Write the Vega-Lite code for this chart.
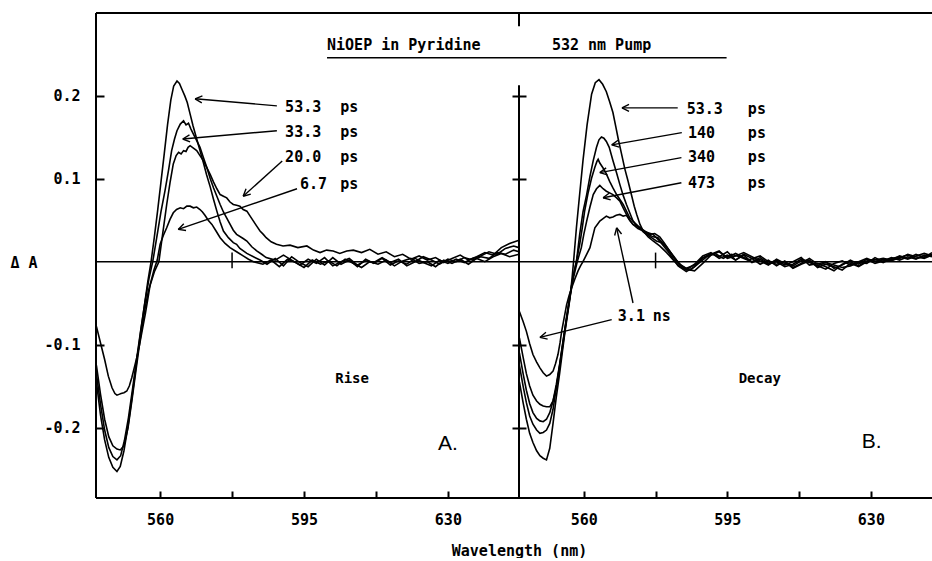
{
"$schema":"https://vega.github.io/schema/vega-lite/v6.json",
"autosize":{"type":"pad"},
"padding":{"left":10,"top":12,"right":0,"bottom":0},
"bounds":"flush",
"spacing":0,
"background":"white",
"config":{"view":{"stroke":null},"axis":{"labelColor":"black","tickColor":"black","titleColor":"black","labelFont":"DejaVu Sans Mono","titleFont":"DejaVu Sans Mono","labelFontSize":15,"titleFontSize":15,"labelFontWeight":"bold","titleFontWeight":"bold","tickWidth":2,"grid":false,"domain":false,"labelOverlap":false,"labelFlush":false}},
"datasets":{
"one":[{}],
"curvesA":[
{"s":"53.3","x":544.5,"y":-0.145},{"s":"53.3","x":545.5,"y":-0.185},{"s":"53.3","x":546.5,"y":-0.215},{"s":"53.3","x":547.5,"y":-0.236},{"s":"53.3","x":548.5,"y":-0.248},{"s":"53.3","x":549.5,"y":-0.253},{"s":"53.3","x":550.3,"y":-0.247},{"s":"53.3","x":551.2,"y":-0.228},{"s":"53.3","x":552.2,"y":-0.198},{"s":"53.3","x":553.2,"y":-0.162},{"s":"53.3","x":554.2,"y":-0.124},{"s":"53.3","x":555.2,"y":-0.087},{"s":"53.3","x":556.2,"y":-0.052},{"s":"53.3","x":557.0,"y":-0.024},{"s":"53.3","x":557.8,"y":0.0},{"s":"53.3","x":558.6,"y":0.03},{"s":"53.3","x":559.4,"y":0.062},{"s":"53.3","x":560.2,"y":0.096},{"s":"53.3","x":561.0,"y":0.13},{"s":"53.3","x":561.8,"y":0.165},{"s":"53.3","x":562.6,"y":0.195},{"s":"53.3","x":563.3,"y":0.212},{"s":"53.3","x":564.1,"y":0.218},{"s":"53.3","x":564.7,"y":0.215},{"s":"53.3","x":565.3,"y":0.208},{"s":"53.3","x":566.0,"y":0.2},{"s":"53.3","x":566.6,"y":0.192},{"s":"53.3","x":567.3,"y":0.178},{"s":"53.3","x":568.0,"y":0.164},{"s":"53.3","x":568.9,"y":0.148},{"s":"53.3","x":569.7,"y":0.134},{"s":"53.3","x":570.5,"y":0.12},{"s":"53.3","x":571.3,"y":0.105},{"s":"53.3","x":572.2,"y":0.09},{"s":"53.3","x":573.0,"y":0.075},{"s":"53.3","x":573.8,"y":0.061},{"s":"53.3","x":574.6,"y":0.048},{"s":"53.3","x":575.4,"y":0.037},{"s":"53.3","x":576.6,"y":0.029},{"s":"53.3","x":577.8,"y":0.023},{"s":"53.3","x":578.6,"y":0.021},{"s":"53.3","x":579.4,"y":0.016},{"s":"53.3","x":581.1,"y":0.01},{"s":"53.3","x":582.7,"y":0.006},{"s":"53.3","x":584.3,"y":0.002},{"s":"53.3","x":586,"y":-0.003},{"s":"53.3","x":588,"y":0.004},{"s":"53.3","x":590,"y":-0.005},{"s":"53.3","x":592,"y":0.006},{"s":"53.3","x":594,"y":-0.001},{"s":"53.3","x":596,"y":-0.006},{"s":"53.3","x":598,"y":0.003},{"s":"53.3","x":600,"y":-0.004},{"s":"53.3","x":602,"y":0.005},{"s":"53.3","x":604,"y":-0.003},{"s":"53.3","x":606,"y":0.002},{"s":"53.3","x":608,"y":-0.006},{"s":"53.3","x":610,"y":0.003},{"s":"53.3","x":612,"y":-0.002},{"s":"53.3","x":614,"y":0.004},{"s":"53.3","x":616,"y":-0.004},{"s":"53.3","x":618,"y":0.001},{"s":"53.3","x":620,"y":-0.003},{"s":"53.3","x":622,"y":0.004},{"s":"53.3","x":624,"y":-0.001},{"s":"53.3","x":626,"y":-0.005},{"s":"53.3","x":628,"y":0.002},{"s":"53.3","x":630,"y":-0.002},{"s":"53.3","x":632,"y":0.003},{"s":"53.3","x":634,"y":-0.001},{"s":"53.3","x":636,"y":0.004},{"s":"53.3","x":638,"y":0.007},{"s":"53.3","x":640,"y":0.012},{"s":"53.3","x":642,"y":0.009},{"s":"53.3","x":644,"y":0.016},{"s":"53.3","x":646,"y":0.019},{"s":"53.3","x":647.3,"y":0.017},
{"s":"33.3","x":544.5,"y":-0.135},{"s":"33.3","x":545.5,"y":-0.172},{"s":"33.3","x":546.5,"y":-0.203},{"s":"33.3","x":547.5,"y":-0.224},{"s":"33.3","x":548.5,"y":-0.235},{"s":"33.3","x":549.5,"y":-0.239},{"s":"33.3","x":550.4,"y":-0.234},{"s":"33.3","x":551.3,"y":-0.216},{"s":"33.3","x":552.3,"y":-0.188},{"s":"33.3","x":553.3,"y":-0.153},{"s":"33.3","x":554.3,"y":-0.117},{"s":"33.3","x":555.3,"y":-0.082},{"s":"33.3","x":556.3,"y":-0.049},{"s":"33.3","x":557.3,"y":-0.02},{"s":"33.3","x":558.2,"y":0.0},{"s":"33.3","x":559.2,"y":0.03},{"s":"33.3","x":560.2,"y":0.06},{"s":"33.3","x":561.2,"y":0.086},{"s":"33.3","x":562.1,"y":0.112},{"s":"33.3","x":562.8,"y":0.134},{"s":"33.3","x":563.5,"y":0.148},{"s":"33.3","x":564.1,"y":0.158},{"s":"33.3","x":564.9,"y":0.166},{"s":"33.3","x":565.7,"y":0.17},{"s":"33.3","x":566.3,"y":0.165},{"s":"33.3","x":566.9,"y":0.167},{"s":"33.3","x":567.5,"y":0.16},{"s":"33.3","x":568.1,"y":0.154},{"s":"33.3","x":568.9,"y":0.146},{"s":"33.3","x":569.7,"y":0.138},{"s":"33.3","x":570.5,"y":0.126},{"s":"33.3","x":571.4,"y":0.113},{"s":"33.3","x":572.2,"y":0.1},{"s":"33.3","x":573.0,"y":0.089},{"s":"33.3","x":573.8,"y":0.079},{"s":"33.3","x":574.6,"y":0.069},{"s":"33.3","x":575.4,"y":0.06},{"s":"33.3","x":576.6,"y":0.049},{"s":"33.3","x":577.8,"y":0.038},{"s":"33.3","x":578.6,"y":0.033},{"s":"33.3","x":580.2,"y":0.028},{"s":"33.3","x":581.1,"y":0.025},{"s":"33.3","x":582.3,"y":0.018},{"s":"33.3","x":583.5,"y":0.013},{"s":"33.3","x":584.7,"y":0.009},{"s":"33.3","x":585.8,"y":0.005},{"s":"33.3","x":588,"y":0.002},{"s":"33.3","x":590,"y":0.008},{"s":"33.3","x":592,"y":0.002},{"s":"33.3","x":594,"y":-0.004},{"s":"33.3","x":596,"y":0.003},{"s":"33.3","x":598,"y":-0.002},{"s":"33.3","x":600,"y":0.005},{"s":"33.3","x":602,"y":-0.005},{"s":"33.3","x":604,"y":0.0},{"s":"33.3","x":606,"y":0.004},{"s":"33.3","x":608,"y":-0.004},{"s":"33.3","x":610,"y":0.001},{"s":"33.3","x":612,"y":-0.001},{"s":"33.3","x":614,"y":0.005},{"s":"33.3","x":616,"y":-0.001},{"s":"33.3","x":618,"y":0.003},{"s":"33.3","x":620,"y":-0.005},{"s":"33.3","x":622,"y":0.0},{"s":"33.3","x":624,"y":0.006},{"s":"33.3","x":626,"y":0.002},{"s":"33.3","x":628,"y":-0.003},{"s":"33.3","x":630,"y":0.003},{"s":"33.3","x":632,"y":0.0},{"s":"33.3","x":634,"y":0.005},{"s":"33.3","x":636,"y":0.002},{"s":"33.3","x":638,"y":0.006},{"s":"33.3","x":640,"y":0.004},{"s":"33.3","x":642,"y":0.011},{"s":"33.3","x":644,"y":0.009},{"s":"33.3","x":646,"y":0.014},{"s":"33.3","x":647.3,"y":0.012},
{"s":"20.0","x":544.5,"y":-0.125},{"s":"20.0","x":545.5,"y":-0.16},{"s":"20.0","x":546.5,"y":-0.19},{"s":"20.0","x":547.5,"y":-0.211},{"s":"20.0","x":548.5,"y":-0.222},{"s":"20.0","x":549.5,"y":-0.226},{"s":"20.0","x":550.3,"y":-0.227},{"s":"20.0","x":551.2,"y":-0.222},{"s":"20.0","x":552.2,"y":-0.2},{"s":"20.0","x":553.2,"y":-0.165},{"s":"20.0","x":554.2,"y":-0.128},{"s":"20.0","x":555.2,"y":-0.092},{"s":"20.0","x":556.2,"y":-0.06},{"s":"20.0","x":557.2,"y":-0.034},{"s":"20.0","x":558.6,"y":-0.012},{"s":"20.0","x":559.7,"y":0.0},{"s":"20.0","x":560.6,"y":0.033},{"s":"20.0","x":561.6,"y":0.069},{"s":"20.0","x":562.4,"y":0.095},{"s":"20.0","x":563.2,"y":0.118},{"s":"20.0","x":563.9,"y":0.128},{"s":"20.0","x":564.5,"y":0.132},{"s":"20.0","x":565.1,"y":0.13},{"s":"20.0","x":565.7,"y":0.134},{"s":"20.0","x":566.3,"y":0.133},{"s":"20.0","x":566.8,"y":0.138},{"s":"20.0","x":567.3,"y":0.14},{"s":"20.0","x":568.1,"y":0.137},{"s":"20.0","x":568.9,"y":0.134},{"s":"20.0","x":569.7,"y":0.128},{"s":"20.0","x":570.5,"y":0.122},{"s":"20.0","x":571.3,"y":0.114},{"s":"20.0","x":572.2,"y":0.105},{"s":"20.0","x":573.0,"y":0.096},{"s":"20.0","x":573.8,"y":0.088},{"s":"20.0","x":574.6,"y":0.081},{"s":"20.0","x":575.4,"y":0.079},{"s":"20.0","x":576.2,"y":0.077},{"s":"20.0","x":577.0,"y":0.072},{"s":"20.0","x":577.8,"y":0.069},{"s":"20.0","x":578.6,"y":0.068},{"s":"20.0","x":579.4,"y":0.067},{"s":"20.0","x":580.2,"y":0.063},{"s":"20.0","x":581.1,"y":0.061},{"s":"20.0","x":581.9,"y":0.055},{"s":"20.0","x":582.7,"y":0.049},{"s":"20.0","x":583.5,"y":0.043},{"s":"20.0","x":584.3,"y":0.037},{"s":"20.0","x":585.1,"y":0.033},{"s":"20.0","x":585.8,"y":0.029},{"s":"20.0","x":587.0,"y":0.024},{"s":"20.0","x":588.3,"y":0.021},{"s":"20.0","x":589.9,"y":0.019},{"s":"20.0","x":591.6,"y":0.02},{"s":"20.0","x":593.5,"y":0.017},{"s":"20.0","x":595.7,"y":0.019},{"s":"20.0","x":597.3,"y":0.014},{"s":"20.0","x":598.9,"y":0.011},{"s":"20.0","x":600.5,"y":0.014},{"s":"20.0","x":602.1,"y":0.013},{"s":"20.0","x":603.7,"y":0.01},{"s":"20.0","x":605.4,"y":0.013},{"s":"20.0","x":607,"y":0.014},{"s":"20.0","x":609,"y":0.011},{"s":"20.0","x":611,"y":0.015},{"s":"20.0","x":613,"y":0.009},{"s":"20.0","x":615,"y":0.012},{"s":"20.0","x":617,"y":0.006},{"s":"20.0","x":619,"y":0.009},{"s":"20.0","x":621,"y":0.003},{"s":"20.0","x":623,"y":0.007},{"s":"20.0","x":625,"y":0.002},{"s":"20.0","x":627,"y":0.005},{"s":"20.0","x":629,"y":-0.001},{"s":"20.0","x":631,"y":0.004},{"s":"20.0","x":633,"y":0.008},{"s":"20.0","x":635,"y":0.002},{"s":"20.0","x":637,"y":0.006},{"s":"20.0","x":639,"y":0.011},{"s":"20.0","x":641,"y":0.008},{"s":"20.0","x":643,"y":0.017},{"s":"20.0","x":645,"y":0.022},{"s":"20.0","x":647.3,"y":0.026},
{"s":"6.7","x":544.5,"y":-0.078},{"s":"6.7","x":545.5,"y":-0.098},{"s":"6.7","x":546.5,"y":-0.118},{"s":"6.7","x":547.4,"y":-0.138},{"s":"6.7","x":548.3,"y":-0.152},{"s":"6.7","x":549.0,"y":-0.159},{"s":"6.7","x":549.5,"y":-0.161},{"s":"6.7","x":550.0,"y":-0.16},{"s":"6.7","x":550.5,"y":-0.159},{"s":"6.7","x":551.2,"y":-0.158},{"s":"6.7","x":551.9,"y":-0.156},{"s":"6.7","x":552.5,"y":-0.15},{"s":"6.7","x":553.1,"y":-0.14},{"s":"6.7","x":553.7,"y":-0.128},{"s":"6.7","x":554.3,"y":-0.116},{"s":"6.7","x":555.0,"y":-0.1},{"s":"6.7","x":555.6,"y":-0.084},{"s":"6.7","x":556.4,"y":-0.063},{"s":"6.7","x":557.0,"y":-0.045},{"s":"6.7","x":557.6,"y":-0.027},{"s":"6.7","x":558.5,"y":-0.01},{"s":"6.7","x":559.3,"y":0.002},{"s":"6.7","x":560.0,"y":0.021},{"s":"6.7","x":560.8,"y":0.032},{"s":"6.7","x":561.6,"y":0.041},{"s":"6.7","x":562.4,"y":0.051},{"s":"6.7","x":563.2,"y":0.059},{"s":"6.7","x":564.0,"y":0.063},{"s":"6.7","x":564.9,"y":0.065},{"s":"6.7","x":565.7,"y":0.064},{"s":"6.7","x":566.5,"y":0.067},{"s":"6.7","x":567.3,"y":0.067},{"s":"6.7","x":568.1,"y":0.065},{"s":"6.7","x":568.9,"y":0.066},{"s":"6.7","x":569.7,"y":0.063},{"s":"6.7","x":570.3,"y":0.06},{"s":"6.7","x":570.9,"y":0.056},{"s":"6.7","x":571.7,"y":0.05},{"s":"6.7","x":572.6,"y":0.045},{"s":"6.7","x":573.6,"y":0.037},{"s":"6.7","x":574.6,"y":0.029},{"s":"6.7","x":575.8,"y":0.022},{"s":"6.7","x":577.0,"y":0.017},{"s":"6.7","x":578.6,"y":0.012},{"s":"6.7","x":580.2,"y":0.007},{"s":"6.7","x":581.5,"y":0.003},{"s":"6.7","x":582.7,"y":0.0},{"s":"6.7","x":585,"y":-0.003},{"s":"6.7","x":587,"y":0.002},{"s":"6.7","x":589,"y":-0.006},{"s":"6.7","x":591,"y":0.003},{"s":"6.7","x":593,"y":-0.001},{"s":"6.7","x":595,"y":-0.007},{"s":"6.7","x":597,"y":0.002},{"s":"6.7","x":599,"y":-0.003},{"s":"6.7","x":601,"y":0.001},{"s":"6.7","x":603,"y":-0.005},{"s":"6.7","x":605,"y":0.003},{"s":"6.7","x":607,"y":-0.002},{"s":"6.7","x":609,"y":-0.007},{"s":"6.7","x":611,"y":0.0},{"s":"6.7","x":613,"y":-0.003},{"s":"6.7","x":615,"y":0.002},{"s":"6.7","x":617,"y":-0.005},{"s":"6.7","x":619,"y":0.001},{"s":"6.7","x":621,"y":0.004},{"s":"6.7","x":623,"y":-0.002},{"s":"6.7","x":625,"y":0.0},{"s":"6.7","x":627,"y":-0.006},{"s":"6.7","x":629,"y":0.002},{"s":"6.7","x":631,"y":-0.002},{"s":"6.7","x":633,"y":0.003},{"s":"6.7","x":635,"y":-0.003},{"s":"6.7","x":637,"y":0.004},{"s":"6.7","x":639,"y":0.0},{"s":"6.7","x":641,"y":0.006},{"s":"6.7","x":643,"y":0.01},{"s":"6.7","x":645,"y":0.006},{"s":"6.7","x":647.3,"y":0.009}
],
"curvesB":[
{"s":"53.3","x":544.3,"y":-0.145},{"s":"53.3","x":545.2,"y":-0.17},{"s":"53.3","x":546.0,"y":-0.19},{"s":"53.3","x":546.8,"y":-0.207},{"s":"53.3","x":547.6,"y":-0.218},{"s":"53.3","x":548.5,"y":-0.228},{"s":"53.3","x":549.3,"y":-0.234},{"s":"53.3","x":550.1,"y":-0.237},{"s":"53.3","x":550.9,"y":-0.239},{"s":"53.3","x":551.7,"y":-0.225},{"s":"53.3","x":552.5,"y":-0.195},{"s":"53.3","x":553.3,"y":-0.163},{"s":"53.3","x":554.1,"y":-0.135},{"s":"53.3","x":554.8,"y":-0.108},{"s":"53.3","x":555.4,"y":-0.085},{"s":"53.3","x":556.0,"y":-0.065},{"s":"53.3","x":556.6,"y":-0.045},{"s":"53.3","x":557.1,"y":-0.022},{"s":"53.3","x":557.5,"y":0.0},{"s":"53.3","x":558.2,"y":0.041},{"s":"53.3","x":559.0,"y":0.082},{"s":"53.3","x":559.8,"y":0.122},{"s":"53.3","x":560.8,"y":0.165},{"s":"53.3","x":561.9,"y":0.202},{"s":"53.3","x":562.8,"y":0.216},{"s":"53.3","x":563.7,"y":0.2195},{"s":"53.3","x":564.6,"y":0.214},{"s":"53.3","x":565.5,"y":0.205},{"s":"53.3","x":566.3,"y":0.193},{"s":"53.3","x":567.1,"y":0.18},{"s":"53.3","x":567.8,"y":0.163},{"s":"53.3","x":568.4,"y":0.148},{"s":"53.3","x":569.2,"y":0.13},{"s":"53.3","x":570.0,"y":0.112},{"s":"53.3","x":570.8,"y":0.097},{"s":"53.3","x":571.6,"y":0.081},{"s":"53.3","x":572.3,"y":0.067},{"s":"53.3","x":572.9,"y":0.057},{"s":"53.3","x":573.7,"y":0.045},{"s":"53.3","x":574.5,"y":0.037},{"s":"53.3","x":575.7,"y":0.03},{"s":"53.3","x":576.9,"y":0.025},{"s":"53.3","x":578.5,"y":0.019},{"s":"53.3","x":580.2,"y":0.011},{"s":"53.3","x":581.8,"y":0.002},{"s":"53.3","x":583.4,"y":-0.006},{"s":"53.3","x":585,"y":-0.01},{"s":"53.3","x":587,"y":-0.003},{"s":"53.3","x":589,"y":0.007},{"s":"53.3","x":591,"y":0.011},{"s":"53.3","x":593,"y":0.004},{"s":"53.3","x":595,"y":0.008},{"s":"53.3","x":597,"y":0.002},{"s":"53.3","x":599,"y":0.009},{"s":"53.3","x":601,"y":0.004},{"s":"53.3","x":603,"y":-0.003},{"s":"53.3","x":605,"y":0.002},{"s":"53.3","x":607,"y":-0.005},{"s":"53.3","x":609,"y":0.001},{"s":"53.3","x":611,"y":-0.007},{"s":"53.3","x":613,"y":-0.002},{"s":"53.3","x":615,"y":0.004},{"s":"53.3","x":617,"y":-0.003},{"s":"53.3","x":619,"y":0.0},{"s":"53.3","x":621,"y":-0.008},{"s":"53.3","x":623,"y":-0.004},{"s":"53.3","x":625,"y":0.002},{"s":"53.3","x":627,"y":-0.003},{"s":"53.3","x":629,"y":0.003},{"s":"53.3","x":631,"y":-0.002},{"s":"53.3","x":633,"y":0.001},{"s":"53.3","x":635,"y":0.005},{"s":"53.3","x":637,"y":0.002},{"s":"53.3","x":639,"y":0.006},{"s":"53.3","x":641,"y":0.003},{"s":"53.3","x":643,"y":0.008},{"s":"53.3","x":644.9,"y":0.006},
{"s":"140","x":544.3,"y":-0.125},{"s":"140","x":545.2,"y":-0.15},{"s":"140","x":546.0,"y":-0.17},{"s":"140","x":546.8,"y":-0.186},{"s":"140","x":547.6,"y":-0.196},{"s":"140","x":548.5,"y":-0.203},{"s":"140","x":549.3,"y":-0.207},{"s":"140","x":550.1,"y":-0.206},{"s":"140","x":550.9,"y":-0.203},{"s":"140","x":551.7,"y":-0.195},{"s":"140","x":552.5,"y":-0.178},{"s":"140","x":553.3,"y":-0.152},{"s":"140","x":554.1,"y":-0.125},{"s":"140","x":554.9,"y":-0.097},{"s":"140","x":555.7,"y":-0.07},{"s":"140","x":556.5,"y":-0.045},{"s":"140","x":557.3,"y":-0.02},{"s":"140","x":558.2,"y":0.0},{"s":"140","x":559.0,"y":0.033},{"s":"140","x":559.8,"y":0.06},{"s":"140","x":560.7,"y":0.081},{"s":"140","x":561.5,"y":0.103},{"s":"140","x":562.3,"y":0.122},{"s":"140","x":563.1,"y":0.138},{"s":"140","x":563.7,"y":0.147},{"s":"140","x":564.3,"y":0.1505},{"s":"140","x":564.9,"y":0.149},{"s":"140","x":565.5,"y":0.145},{"s":"140","x":566.2,"y":0.138},{"s":"140","x":567.1,"y":0.122},{"s":"140","x":568.0,"y":0.107},{"s":"140","x":568.8,"y":0.093},{"s":"140","x":569.6,"y":0.08},{"s":"140","x":570.4,"y":0.069},{"s":"140","x":571.2,"y":0.059},{"s":"140","x":572.0,"y":0.049},{"s":"140","x":573.2,"y":0.042},{"s":"140","x":574.5,"y":0.037},{"s":"140","x":575.7,"y":0.035},{"s":"140","x":576.9,"y":0.033},{"s":"140","x":578.1,"y":0.027},{"s":"140","x":579.3,"y":0.02},{"s":"140","x":580.6,"y":0.012},{"s":"140","x":581.8,"y":0.003},{"s":"140","x":583.0,"y":-0.005},{"s":"140","x":585,"y":-0.012},{"s":"140","x":587,"y":-0.006},{"s":"140","x":589,"y":0.004},{"s":"140","x":591,"y":0.01},{"s":"140","x":593,"y":0.006},{"s":"140","x":595,"y":0.012},{"s":"140","x":597,"y":0.002},{"s":"140","x":599,"y":0.008},{"s":"140","x":601,"y":-0.001},{"s":"140","x":603,"y":0.003},{"s":"140","x":605,"y":-0.003},{"s":"140","x":607,"y":0.0},{"s":"140","x":609,"y":-0.006},{"s":"140","x":611,"y":-0.003},{"s":"140","x":613,"y":0.003},{"s":"140","x":615,"y":-0.001},{"s":"140","x":617,"y":-0.005},{"s":"140","x":619,"y":-0.009},{"s":"140","x":621,"y":-0.002},{"s":"140","x":623,"y":0.001},{"s":"140","x":625,"y":-0.004},{"s":"140","x":627,"y":0.0},{"s":"140","x":629,"y":0.004},{"s":"140","x":631,"y":0.0},{"s":"140","x":633,"y":0.003},{"s":"140","x":635,"y":0.001},{"s":"140","x":637,"y":0.005},{"s":"140","x":639,"y":0.008},{"s":"140","x":641,"y":0.004},{"s":"140","x":643,"y":0.006},{"s":"140","x":644.9,"y":0.009},
{"s":"340","x":544.3,"y":-0.11},{"s":"340","x":545.2,"y":-0.135},{"s":"340","x":546.0,"y":-0.155},{"s":"340","x":546.8,"y":-0.171},{"s":"340","x":547.6,"y":-0.182},{"s":"340","x":548.5,"y":-0.189},{"s":"340","x":549.3,"y":-0.192},{"s":"340","x":550.1,"y":-0.193},{"s":"340","x":550.9,"y":-0.19},{"s":"340","x":551.7,"y":-0.182},{"s":"340","x":552.5,"y":-0.168},{"s":"340","x":553.3,"y":-0.148},{"s":"340","x":554.1,"y":-0.124},{"s":"340","x":554.9,"y":-0.098},{"s":"340","x":555.7,"y":-0.071},{"s":"340","x":556.5,"y":-0.045},{"s":"340","x":557.4,"y":-0.018},{"s":"340","x":558.3,"y":0.003},{"s":"340","x":559.0,"y":0.021},{"s":"340","x":559.6,"y":0.04},{"s":"340","x":560.2,"y":0.061},{"s":"340","x":561.0,"y":0.082},{"s":"340","x":561.9,"y":0.101},{"s":"340","x":562.7,"y":0.114},{"s":"340","x":563.2,"y":0.121},{"s":"340","x":563.5,"y":0.1235},{"s":"340","x":563.9,"y":0.119},{"s":"340","x":564.3,"y":0.116},{"s":"340","x":564.7,"y":0.113},{"s":"340","x":565.5,"y":0.106},{"s":"340","x":566.3,"y":0.097},{"s":"340","x":567.1,"y":0.089},{"s":"340","x":568.0,"y":0.081},{"s":"340","x":568.8,"y":0.075},{"s":"340","x":569.6,"y":0.069},{"s":"340","x":570.4,"y":0.061},{"s":"340","x":571.2,"y":0.053},{"s":"340","x":572.4,"y":0.047},{"s":"340","x":573.7,"y":0.041},{"s":"340","x":574.9,"y":0.037},{"s":"340","x":576.1,"y":0.033},{"s":"340","x":577.3,"y":0.034},{"s":"340","x":578.5,"y":0.03},{"s":"340","x":579.7,"y":0.022},{"s":"340","x":581.0,"y":0.012},{"s":"340","x":582.2,"y":0.003},{"s":"340","x":583.4,"y":-0.004},{"s":"340","x":585,"y":-0.009},{"s":"340","x":587,"y":-0.011},{"s":"340","x":589,"y":-0.002},{"s":"340","x":591,"y":0.008},{"s":"340","x":593,"y":0.012},{"s":"340","x":595,"y":0.005},{"s":"340","x":597,"y":0.01},{"s":"340","x":599,"y":0.005},{"s":"340","x":601,"y":0.0},{"s":"340","x":603,"y":0.005},{"s":"340","x":605,"y":-0.002},{"s":"340","x":607,"y":0.002},{"s":"340","x":609,"y":-0.004},{"s":"340","x":611,"y":0.0},{"s":"340","x":613,"y":0.005},{"s":"340","x":615,"y":-0.004},{"s":"340","x":617,"y":-0.002},{"s":"340","x":619,"y":-0.006},{"s":"340","x":621,"y":-0.011},{"s":"340","x":623,"y":-0.003},{"s":"340","x":625,"y":0.0},{"s":"340","x":627,"y":-0.005},{"s":"340","x":629,"y":0.001},{"s":"340","x":631,"y":0.003},{"s":"340","x":633,"y":-0.001},{"s":"340","x":635,"y":0.004},{"s":"340","x":637,"y":0.006},{"s":"340","x":639,"y":0.003},{"s":"340","x":641,"y":0.007},{"s":"340","x":643,"y":0.01},{"s":"340","x":644.9,"y":0.007},
{"s":"473","x":544.3,"y":-0.092},{"s":"473","x":545.2,"y":-0.115},{"s":"473","x":546.0,"y":-0.135},{"s":"473","x":546.8,"y":-0.15},{"s":"473","x":547.6,"y":-0.161},{"s":"473","x":548.5,"y":-0.168},{"s":"473","x":549.3,"y":-0.172},{"s":"473","x":550.1,"y":-0.174},{"s":"473","x":550.9,"y":-0.175},{"s":"473","x":551.7,"y":-0.175},{"s":"473","x":552.5,"y":-0.168},{"s":"473","x":553.3,"y":-0.152},{"s":"473","x":554.1,"y":-0.127},{"s":"473","x":554.9,"y":-0.1},{"s":"473","x":555.7,"y":-0.073},{"s":"473","x":556.5,"y":-0.047},{"s":"473","x":557.4,"y":-0.021},{"s":"473","x":558.4,"y":0.0},{"s":"473","x":559.4,"y":0.017},{"s":"473","x":560.0,"y":0.033},{"s":"473","x":560.7,"y":0.049},{"s":"473","x":561.5,"y":0.066},{"s":"473","x":562.3,"y":0.081},{"s":"473","x":563.1,"y":0.088},{"s":"473","x":563.9,"y":0.092},{"s":"473","x":564.7,"y":0.088},{"s":"473","x":565.5,"y":0.085},{"s":"473","x":566.3,"y":0.083},{"s":"473","x":567.1,"y":0.081},{"s":"473","x":568.0,"y":0.077},{"s":"473","x":568.8,"y":0.073},{"s":"473","x":569.6,"y":0.065},{"s":"473","x":570.4,"y":0.057},{"s":"473","x":571.2,"y":0.05},{"s":"473","x":572.0,"y":0.045},{"s":"473","x":573.2,"y":0.04},{"s":"473","x":574.5,"y":0.037},{"s":"473","x":575.7,"y":0.033},{"s":"473","x":576.9,"y":0.03},{"s":"473","x":578.1,"y":0.029},{"s":"473","x":579.3,"y":0.022},{"s":"473","x":581.0,"y":0.012},{"s":"473","x":582.2,"y":0.004},{"s":"473","x":583.4,"y":-0.003},{"s":"473","x":585,"y":-0.008},{"s":"473","x":587,"y":-0.004},{"s":"473","x":589,"y":0.005},{"s":"473","x":591,"y":0.009},{"s":"473","x":593,"y":0.013},{"s":"473","x":595,"y":0.004},{"s":"473","x":597,"y":0.007},{"s":"473","x":599,"y":0.011},{"s":"473","x":601,"y":0.006},{"s":"473","x":603,"y":0.001},{"s":"473","x":605,"y":-0.004},{"s":"473","x":607,"y":0.003},{"s":"473","x":609,"y":-0.002},{"s":"473","x":611,"y":-0.005},{"s":"473","x":613,"y":0.001},{"s":"473","x":615,"y":0.002},{"s":"473","x":617,"y":-0.007},{"s":"473","x":619,"y":-0.003},{"s":"473","x":621,"y":-0.006},{"s":"473","x":623,"y":-0.01},{"s":"473","x":625,"y":-0.002},{"s":"473","x":627,"y":-0.006},{"s":"473","x":629,"y":0.0},{"s":"473","x":631,"y":0.002},{"s":"473","x":633,"y":0.004},{"s":"473","x":635,"y":0.002},{"s":"473","x":637,"y":0.007},{"s":"473","x":639,"y":0.004},{"s":"473","x":641,"y":0.009},{"s":"473","x":643,"y":0.005},{"s":"473","x":644.9,"y":0.011},
{"s":"3.1","x":544.3,"y":-0.06},{"s":"3.1","x":545.2,"y":-0.072},{"s":"3.1","x":546.0,"y":-0.084},{"s":"3.1","x":546.8,"y":-0.099},{"s":"3.1","x":547.6,"y":-0.112},{"s":"3.1","x":548.5,"y":-0.121},{"s":"3.1","x":549.3,"y":-0.128},{"s":"3.1","x":550.1,"y":-0.134},{"s":"3.1","x":550.9,"y":-0.138},{"s":"3.1","x":551.7,"y":-0.136},{"s":"3.1","x":552.5,"y":-0.132},{"s":"3.1","x":553.1,"y":-0.123},{"s":"3.1","x":553.7,"y":-0.112},{"s":"3.1","x":554.2,"y":-0.098},{"s":"3.1","x":554.6,"y":-0.084},{"s":"3.1","x":555.2,"y":-0.068},{"s":"3.1","x":555.8,"y":-0.052},{"s":"3.1","x":556.4,"y":-0.041},{"s":"3.1","x":557.0,"y":-0.032},{"s":"3.1","x":557.8,"y":-0.021},{"s":"3.1","x":558.6,"y":-0.011},{"s":"3.1","x":559.2,"y":-0.005},{"s":"3.1","x":559.8,"y":0.0},{"s":"3.1","x":560.6,"y":0.008},{"s":"3.1","x":561.5,"y":0.017},{"s":"3.1","x":562.1,"y":0.029},{"s":"3.1","x":562.7,"y":0.041},{"s":"3.1","x":563.3,"y":0.045},{"s":"3.1","x":563.9,"y":0.049},{"s":"3.1","x":564.7,"y":0.052},{"s":"3.1","x":565.5,"y":0.055},{"s":"3.1","x":566.3,"y":0.053},{"s":"3.1","x":567.1,"y":0.054},{"s":"3.1","x":567.9,"y":0.056},{"s":"3.1","x":568.8,"y":0.057},{"s":"3.1","x":569.6,"y":0.055},{"s":"3.1","x":570.4,"y":0.056},{"s":"3.1","x":571.2,"y":0.05},{"s":"3.1","x":572.0,"y":0.045},{"s":"3.1","x":572.9,"y":0.043},{"s":"3.1","x":573.7,"y":0.041},{"s":"3.1","x":574.5,"y":0.036},{"s":"3.1","x":575.3,"y":0.033},{"s":"3.1","x":576.5,"y":0.029},{"s":"3.1","x":577.7,"y":0.025},{"s":"3.1","x":579.0,"y":0.023},{"s":"3.1","x":580.2,"y":0.018},{"s":"3.1","x":581.4,"y":0.01},{"s":"3.1","x":582.6,"y":0.002},{"s":"3.1","x":584,"y":-0.006},{"s":"3.1","x":586,"y":-0.01},{"s":"3.1","x":588,"y":-0.002},{"s":"3.1","x":590,"y":0.006},{"s":"3.1","x":592,"y":0.01},{"s":"3.1","x":594,"y":0.004},{"s":"3.1","x":596,"y":0.009},{"s":"3.1","x":598,"y":0.006},{"s":"3.1","x":600,"y":0.002},{"s":"3.1","x":603,"y":0.007},{"s":"3.1","x":605,"y":0.0},{"s":"3.1","x":607,"y":-0.003},{"s":"3.1","x":609,"y":0.0},{"s":"3.1","x":611,"y":-0.008},{"s":"3.1","x":613,"y":-0.003},{"s":"3.1","x":615,"y":0.001},{"s":"3.1","x":617,"y":-0.005},{"s":"3.1","x":619,"y":-0.001},{"s":"3.1","x":621,"y":-0.004},{"s":"3.1","x":623,"y":-0.007},{"s":"3.1","x":625,"y":-0.005},{"s":"3.1","x":627,"y":-0.001},{"s":"3.1","x":629,"y":-0.002},{"s":"3.1","x":631,"y":0.005},{"s":"3.1","x":633,"y":0.0},{"s":"3.1","x":635,"y":0.003},{"s":"3.1","x":637,"y":0.004},{"s":"3.1","x":639,"y":0.009},{"s":"3.1","x":641,"y":0.006},{"s":"3.1","x":643,"y":0.004},{"s":"3.1","x":644.9,"y":0.008}
],
"arrowsA":[
{"x":588.4,"y":0.188,"x2":568.5,"y2":0.1965},
{"x":588.4,"y":0.158,"x2":565.5,"y2":0.148},
{"x":589.7,"y":0.1215,"x2":580.2,"y2":0.079},
{"x":593.3,"y":0.088,"x2":564.4,"y2":0.039}
],
"arrowsB":[
{"x":582.9,"y":0.1856,"x2":569.3,"y2":0.1856},
{"x":583.9,"y":0.1557,"x2":566.8,"y2":0.1409},
{"x":583.8,"y":0.1255,"x2":563.9,"y2":0.1074},
{"x":583.8,"y":0.0953,"x2":564.7,"y2":0.0771},
{"x":572.0,"y":-0.0498,"x2":568.0,"y2":0.0409},
{"x":566.8,"y":-0.0699,"x2":549.3,"y2":-0.0913}
],
"labelsA":[
{"t":"53.3","x":590.4,"y":0.187},{"t":"33.3","x":590.4,"y":0.157},{"t":"20.0","x":590.4,"y":0.126},{"t":"6.7","x":594.0,"y":0.094},
{"t":"ps","x":603.8,"y":0.187},{"t":"ps","x":603.8,"y":0.157},{"t":"ps","x":603.8,"y":0.126},{"t":"ps","x":603.8,"y":0.094}
],
"labelsB":[
{"t":"53.3","x":585.1,"y":0.184},{"t":"140","x":585.4,"y":0.155},{"t":"340","x":585.4,"y":0.126},{"t":"473","x":585.4,"y":0.095},
{"t":"ps","x":600.0,"y":0.184},{"t":"ps","x":600.0,"y":0.155},{"t":"ps","x":600.0,"y":0.126},{"t":"ps","x":600.0,"y":0.095},
{"t":"3.1","x":568.3,"y":-0.066},{"t":"ns","x":576.8,"y":-0.066}
],
"titleA":[
{"t":"NiOEP in Pyridine","x":600.6,"y":0.262},{"t":"532 nm Pump","x":655.3,"y":0.262}
]
},
"hconcat":[
{
"width":423,"height":485,
"layer":[
{"data":{"name":"curvesA"},"mark":{"type":"line","color":"black","strokeWidth":1.6},
"encoding":{
"x":{"field":"x","type":"quantitative","scale":{"domain":[544.4,647.3],"nice":false,"zero":false},
"axis":{"values":[560,577.5,595,612.5,630],"offset":-7,"tickSize":7,"labelPadding":14,"labelExpr":"datum.value % 35 == 0 ? format(datum.value,'d') : ''","title":"Wavelength (nm)","titleX":423,"titleY":64,"titleAlign":"center","titleBaseline":"alphabetic","titleAnchor":"start"}},
"y":{"field":"y","type":"quantitative","scale":{"domain":[-0.285,0.3],"nice":false,"zero":false},
"axis":{"values":[-0.2,-0.1,0.1,0.2],"offset":-8,"tickSize":8,"labelPadding":16,"labelExpr":"datum.value < 0 ? '-' + format(-datum.value,'.1f') : format(datum.value,'.1f')","title":"Δ A","titleAngle":0,"titleAlign":"left","titleBaseline":"middle","titleX":-94,"titleY":249,"titleAnchor":"start"}},
"detail":{"field":"s","type":"nominal"}}},
{"data":{"name":"one"},"mark":{"type":"rule","color":"black","strokeWidth":2},"encoding":{"y":{"datum":0.3}}},
{"data":{"name":"one"},"mark":{"type":"rule","color":"black","strokeWidth":2},"encoding":{"y":{"datum":-0.285}}},
{"data":{"name":"one"},"mark":{"type":"rule","color":"black","strokeWidth":2},"encoding":{"x":{"datum":544.4}}},
{"data":{"name":"one"},"mark":{"type":"rule","color":"black","strokeWidth":1.5},"encoding":{"y":{"datum":0}}},
{"data":{"name":"one"},"mark":{"type":"rule","color":"black","strokeWidth":1.5},"encoding":{"x":{"datum":577.5},"y":{"datum":-0.008},"y2":{"datum":0.011}}},
{"data":{"name":"arrowsA"},"mark":{"type":"rule","color":"black","strokeWidth":1.4},
"encoding":{"x":{"field":"x","type":"quantitative"},"y":{"field":"y","type":"quantitative"},"x2":{"field":"x2"},"y2":{"field":"y2"}}},
{"data":{"name":"arrowsA"},"transform":[{"calculate":"atan2(-(datum.y2-datum.y)*827,(datum.x2-datum.x)*4.11)*180/PI","as":"angle"}],
"mark":{"type":"point","shape":"M0,0L-1,-0.5M0,0L-1,0.5","filled":false,"stroke":"black","strokeWidth":1.4,"size":200,"opacity":1},
"encoding":{"x":{"field":"x2","type":"quantitative"},"y":{"field":"y2","type":"quantitative"},"angle":{"field":"angle","type":"quantitative","scale":null}}},
{"data":{"name":"labelsA"},"mark":{"type":"text","align":"left","baseline":"middle","font":"DejaVu Sans Mono","fontSize":15,"fontWeight":"bold","color":"black"},
"encoding":{"x":{"field":"x","type":"quantitative"},"y":{"field":"y","type":"quantitative"},"text":{"field":"t"}}},
{"data":{"name":"titleA"},"mark":{"type":"text","align":"left","baseline":"middle","font":"DejaVu Sans Mono","fontSize":15,"fontWeight":"bold","color":"black"},
"encoding":{"x":{"field":"x","type":"quantitative"},"y":{"field":"y","type":"quantitative"},"text":{"field":"t"}}},
{"data":{"name":"one"},"mark":{"type":"rule","color":"black","strokeWidth":1.5},"encoding":{"x":{"datum":600.6},"x2":{"datum":697.8},"y":{"datum":0.246}}},
{"data":{"name":"one"},"mark":{"type":"text","align":"center","baseline":"middle","font":"DejaVu Sans Mono","fontSize":14,"fontWeight":"bold","color":"black"},"encoding":{"x":{"datum":606.7},"y":{"datum":-0.141},"text":{"value":"Rise"}}},
{"data":{"name":"one"},"mark":{"type":"text","align":"left","baseline":"middle","font":"Liberation Sans","fontSize":21,"color":"black"},"encoding":{"x":{"datum":627.6},"y":{"datum":-0.22},"text":{"value":"A."}}}
]
},
{
"width":413,"height":485,
"layer":[
{"data":{"name":"curvesB"},"mark":{"type":"line","color":"black","strokeWidth":1.6},
"encoding":{
"x":{"field":"x","type":"quantitative","scale":{"domain":[544.2,644.9],"nice":false,"zero":false},
"axis":{"values":[560,577.5,595,612.5,630],"offset":-7,"tickSize":7,"labelPadding":14,"labelExpr":"datum.value % 35 == 0 ? format(datum.value,'d') : ''","title":null}},
"y":{"field":"y","type":"quantitative","scale":{"domain":[-0.285,0.3],"nice":false,"zero":false},
"axis":{"values":[-0.2,-0.1,0.1,0.2],"offset":-7,"tickSize":14,"labels":false,"title":null}},
"detail":{"field":"s","type":"nominal"}}},
{"data":{"name":"one"},"mark":{"type":"rule","color":"black","strokeWidth":2},"encoding":{"y":{"datum":0.3}}},
{"data":{"name":"one"},"mark":{"type":"rule","color":"black","strokeWidth":2},"encoding":{"y":{"datum":-0.285}}},
{"data":{"name":"one"},"mark":{"type":"rule","color":"black","strokeWidth":2},"encoding":{"x":{"datum":544.2},"y":{"datum":-0.285},"y2":{"datum":0.213}}},
{"data":{"name":"one"},"mark":{"type":"rule","color":"black","strokeWidth":2},"encoding":{"x":{"datum":544.2},"y":{"datum":0.284},"y2":{"datum":0.3}}},
{"data":{"name":"one"},"mark":{"type":"rule","color":"black","strokeWidth":1.5},"encoding":{"y":{"datum":0}}},
{"data":{"name":"one"},"mark":{"type":"rule","color":"black","strokeWidth":1.5},"encoding":{"x":{"datum":577.5},"y":{"datum":-0.008},"y2":{"datum":0.011}}},
{"data":{"name":"arrowsB"},"mark":{"type":"rule","color":"black","strokeWidth":1.4},
"encoding":{"x":{"field":"x","type":"quantitative"},"y":{"field":"y","type":"quantitative"},"x2":{"field":"x2"},"y2":{"field":"y2"}}},
{"data":{"name":"arrowsB"},"transform":[{"calculate":"atan2(-(datum.y2-datum.y)*827,(datum.x2-datum.x)*4.1)*180/PI","as":"angle"}],
"mark":{"type":"point","shape":"M0,0L-1,-0.5M0,0L-1,0.5","filled":false,"stroke":"black","strokeWidth":1.4,"size":200,"opacity":1},
"encoding":{"x":{"field":"x2","type":"quantitative"},"y":{"field":"y2","type":"quantitative"},"angle":{"field":"angle","type":"quantitative","scale":null}}},
{"data":{"name":"labelsB"},"mark":{"type":"text","align":"left","baseline":"middle","font":"DejaVu Sans Mono","fontSize":15,"fontWeight":"bold","color":"black"},
"encoding":{"x":{"field":"x","type":"quantitative"},"y":{"field":"y","type":"quantitative"},"text":{"field":"t"}}},
{"data":{"name":"one"},"mark":{"type":"text","align":"center","baseline":"middle","font":"DejaVu Sans Mono","fontSize":14,"fontWeight":"bold","color":"black"},"encoding":{"x":{"datum":602.9},"y":{"datum":-0.141},"text":{"value":"Decay"}}},
{"data":{"name":"one"},"mark":{"type":"text","align":"left","baseline":"middle","font":"Liberation Sans","fontSize":21,"color":"black"},"encoding":{"x":{"datum":627.8},"y":{"datum":-0.218},"text":{"value":"B."}}}
]
}
]
}
